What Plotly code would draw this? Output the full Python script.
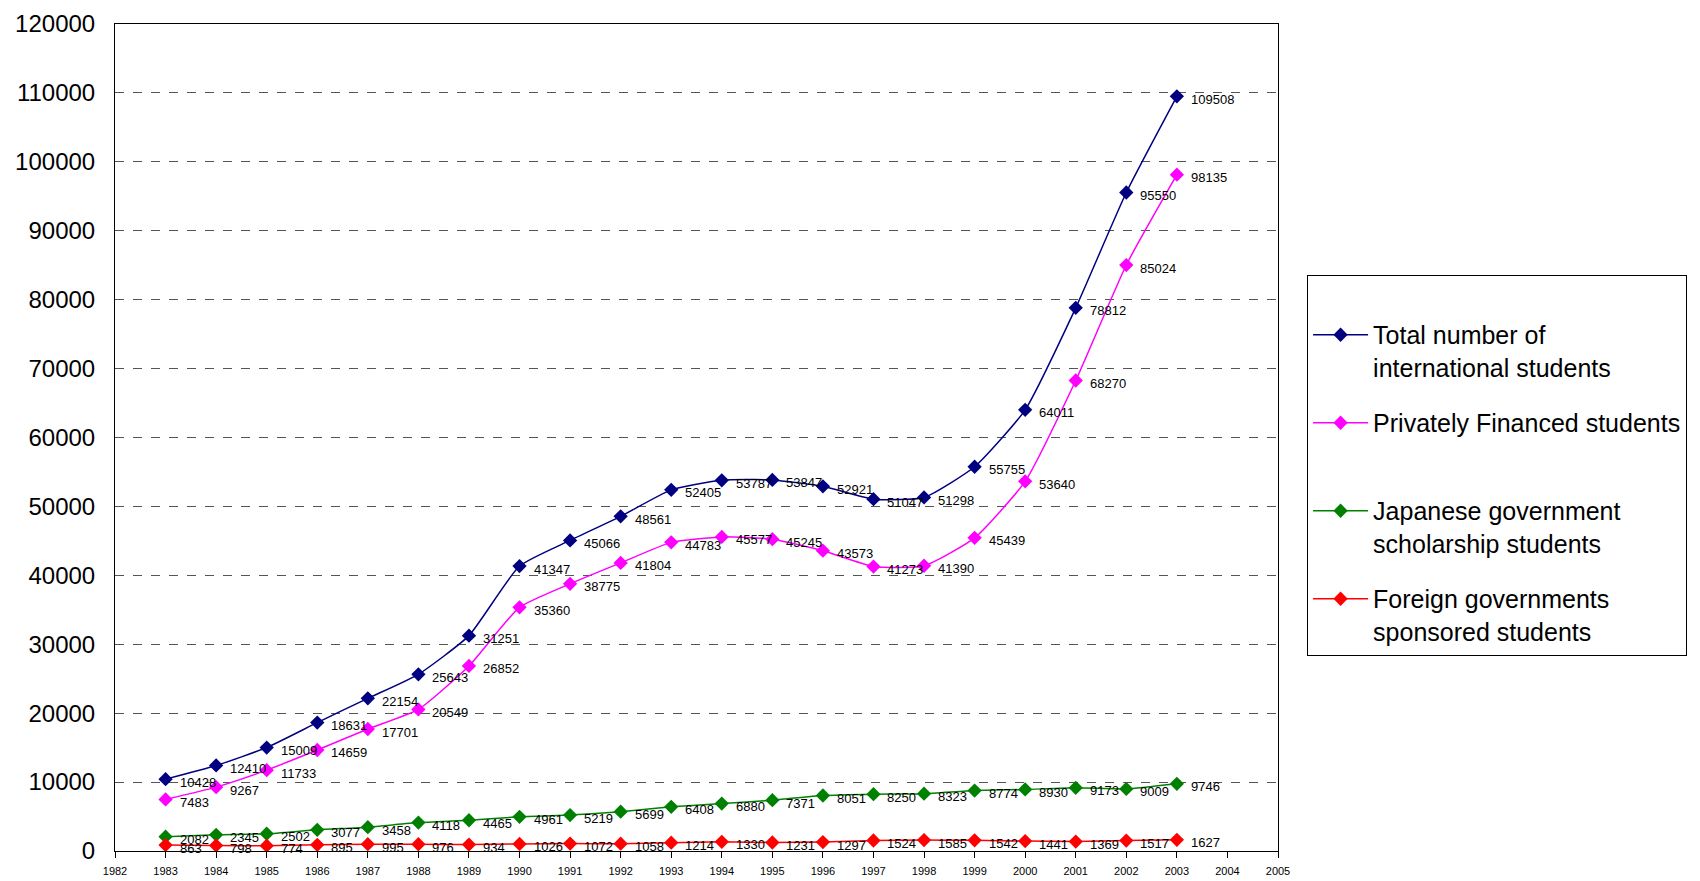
import plotly.graph_objects as go

years = list(range(1983, 2004))
total = [10428, 12410, 15009, 18631, 22154, 25643, 31251, 41347, 45066, 48561, 52405,
         53787, 53847, 52921, 51047, 51298, 55755, 64011, 78812, 95550, 109508]
private = [7483, 9267, 11733, 14659, 17701, 20549, 26852, 35360, 38775, 41804, 44783,
           45577, 45245, 43573, 41273, 41390, 45439, 53640, 68270, 85024, 98135]
japan_gov = [2082, 2345, 2502, 3077, 3458, 4118, 4465, 4961, 5219, 5699, 6408,
             6880, 7371, 8051, 8250, 8323, 8774, 8930, 9173, 9009, 9746]
foreign_gov = [863, 798, 774, 895, 995, 976, 934, 1026, 1072, 1058, 1214,
               1330, 1231, 1297, 1524, 1585, 1542, 1441, 1369, 1517, 1627]

series = [
    ("Total number of<br>international students", total, "#000080"),
    ("Privately Financed students<br> ", private, "#FF00FF"),
    ("Japanese government<br>scholarship students", japan_gov, "#008000"),
    ("Foreign governments<br>sponsored students", foreign_gov, "#FF0000"),
]

fig = go.Figure()
annotations = []
for i, (name, vals, col) in enumerate(series):
    fig.add_trace(go.Scatter(
        x=years, y=vals, name=name, mode="lines+markers", legendgroup=f"g{i}",
        line=dict(color=col, width=1.5, shape="spline", smoothing=0.5),
        marker=dict(symbol="diamond", size=11, color=col),
    ))
    for x, v in zip(years, vals):
        annotations.append(dict(x=x, y=v, xref="x", yref="y", text=str(v),
                                showarrow=False, xanchor="left", yanchor="middle",
                                xshift=12, yshift=-3,
                                font=dict(size=13, color="#000000",
                                          family="Liberation Sans, Arial")))

fig.update_layout(
    width=1700, height=881,
    margin=dict(l=107, r=430, t=16, b=38),
    paper_bgcolor="white", plot_bgcolor="white",
    font=dict(family="Liberation Sans, Arial", color="#000000"),
    showlegend=True,
    legend=dict(x=1.025, y=0.697, xanchor="left", yanchor="top",
                bordercolor="#000000", borderwidth=1, bgcolor="white",
                font=dict(size=25), valign="top", tracegroupgap=20,
                itemwidth=55,
                title=dict(text=" ", font=dict(size=28))),
    annotations=annotations,
)
fig.update_xaxes(range=[1982, 2005], tickmode="linear", tick0=1982, dtick=1,
                 showgrid=False, showline=True, linecolor="#000000", linewidth=1,
                 mirror=True, ticks="outside", ticklen=6, tickcolor="#000000",
                 ticklabelstandoff=4, automargin=False,
                 tickfont=dict(size=11), zeroline=False)
fig.update_yaxes(range=[0, 120000], tickmode="linear", tick0=0, dtick=10000,
                 tickformat="d", ticklabeloverflow="allow", ticklabelstandoff=14,
                 automargin=False,
                 showgrid=True, gridcolor="#555555", griddash="dash", gridwidth=1,
                 showline=True, linecolor="#000000", linewidth=1, mirror=True,
                 ticks="", tickfont=dict(size=24), zeroline=False)

fig.write_html("out.html")
